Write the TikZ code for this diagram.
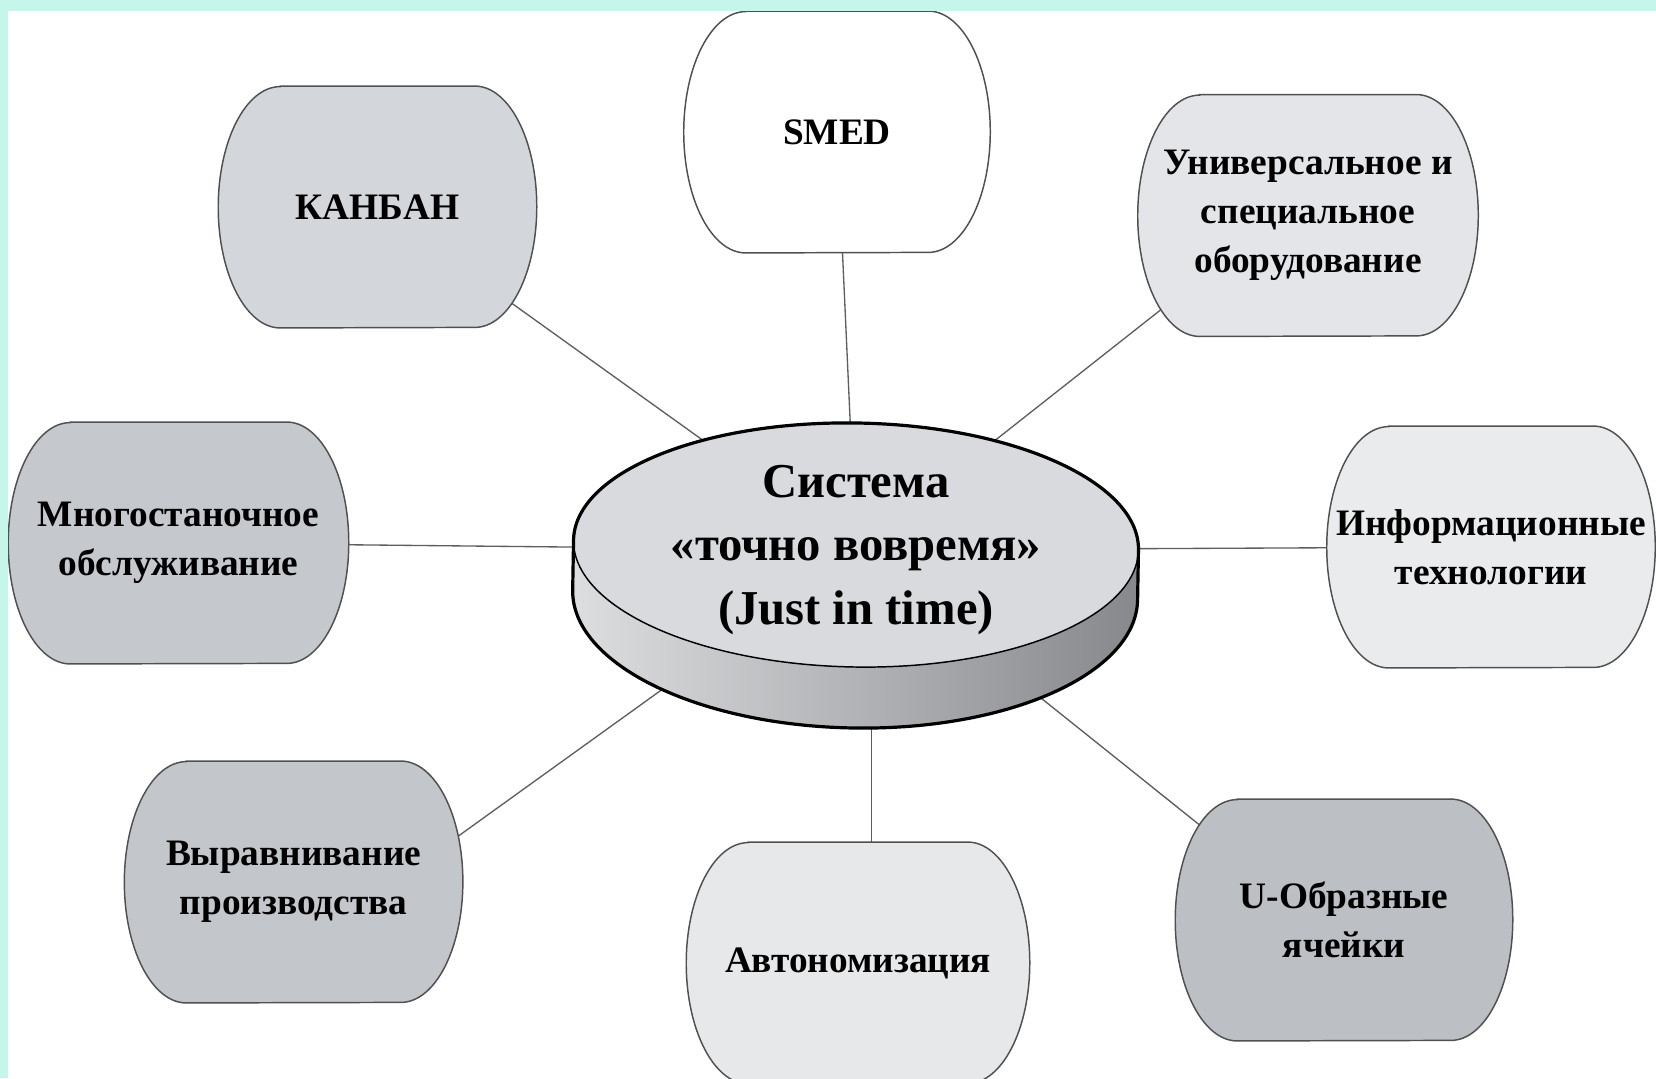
\documentclass[tikz,border=0pt]{standalone}
\usepackage{fontspec}
\setmainfont{Liberation Serif}
\usetikzlibrary{calc,backgrounds}
\definecolor{mint}{HTML}{C6F5E9}
\definecolor{pillborder}{HTML}{505050}
\definecolor{linkgray}{HTML}{5E5E5E}
\definecolor{kanbanfill}{HTML}{D3D6DA}
\definecolor{smedfill}{HTML}{FFFFFF}
\definecolor{univfill}{HTML}{E3E5E8}
\definecolor{mnogofill}{HTML}{C5C8CC}
\definecolor{infofill}{HTML}{EAEBED}
\definecolor{vyrfill}{HTML}{C3C6CA}
\definecolor{avtfill}{HTML}{E7E8EA}
\definecolor{ucellfill}{HTML}{BCBFC3}
\definecolor{disctop}{HTML}{D8DADD}
\definecolor{bandlight}{HTML}{DCDEE0}
\definecolor{banddark}{HTML}{86888B}

\tikzset{
  pilltext/.style={align=center, inner sep=0pt, minimum height=181pt,
    font=\bfseries\fontsize{28}{36.8}\selectfont},
  pillline/.style={draw=pillborder, line width=1.1pt},
  link/.style={draw=linkgray, line width=1pt},
}
% barrel outline round a named node: #1 node, #2 fill
\newcommand{\pillshape}[2]{%
  \draw[pillline, fill=#2] ([xshift=46.5pt]#1.north west) -- ([xshift=-46.5pt]#1.north east)
    arc[start angle=-90, end angle=90, x radius=46.5pt, y radius=90.5pt]
    -- ([xshift=46.5pt]#1.south west)
    arc[start angle=90, end angle=270, x radius=46.5pt, y radius=90.5pt] -- cycle;}

\begin{document}
\begin{tikzpicture}[x=0.75pt,y=0.75pt,yscale=-1,xscale=1]
\useasboundingbox (0,0) rectangle (1656,1078);

% Text Node
\node (jit) at (856,550) [align=center, inner sep=0pt, font=\bfseries\fontsize{36.5}{47.6}\selectfont] {Система\\«точно вовремя»\\(Just in time)};
% Text Node
\node (kanban) at (377.5,207) [pilltext, minimum width=238.5pt] {КАНБАН};
% Text Node
\node (smed) at (837,132) [pilltext, minimum width=229.5pt] {SMED};
% Text Node
\node (univ) at (1308,215.5) [pilltext, minimum width=255pt] {Универсальное и\\специальное\\оборудование};
% Text Node
\node (mnogo) at (178.5,543) [pilltext, minimum width=255pt] {Многостаночное\\обслуживание};
% Text Node
\node (info) at (1491,547) [pilltext, minimum width=246pt] {Информационные\\технологии};
% Text Node
\node (vyr) at (293.6,882) [pilltext, minimum width=253.5pt] {Выравнивание\\производства};
% Text Node
\node (avt) at (858,963) [pilltext, minimum width=257.25pt] {Автономизация};
% Text Node
\node (ucell) at (1344,920) [pilltext, minimum width=252.75pt] {U-Образные\\ячейки};

\begin{scope}[on background layer]
\fill[white] (0,0) rectangle (1656,1078);
% connectors
\draw[link] (jit.center) -- (kanban.center);
\draw[link] (jit.center) -- (smed.center);
\draw[link] (jit.center) -- ($(univ.center)!0.18!(univ.north)$);
\draw[link] (jit.center) -- (mnogo.center);
\draw[link] (jit.center) -- (info.center);
\draw[link] (jit.center) -- ($(vyr.center)!0.6!(vyr.south)$);
\draw[link] ($(avt.center)!0.08!(avt.east)$) coordinate (avtx) -- (avtx |- jit.center);
\draw[link] (jit.center) -- ($(ucell.center)!0.17!(ucell.south)$);
% barrels
\pillshape{kanban}{kanbanfill}
\pillshape{smed}{smedfill}
\pillshape{univ}{univfill}
\pillshape{mnogo}{mnogofill}
\pillshape{info}{infofill}
\pillshape{vyr}{vyrfill}
\pillshape{avt}{avtfill}
\pillshape{ucell}{ucellfill}
% disc
\begin{scope}[rotate around={1:(856,545)}]
\fill[left color=bandlight, right color=banddark] (573.5,545) -- (573.5,595)
  arc[start angle=180, end angle=0, x radius=282.5, y radius=133] -- (1138.5,545)
  arc[start angle=0, end angle=180, x radius=282.5, y radius=122] -- cycle;
\draw[line width=1.1pt, fill=disctop] (856,545) ellipse [x radius=282.5, y radius=122];
\draw[line width=2.4pt] (573.5,545) arc[start angle=180, end angle=360, x radius=282.5, y radius=122]
  -- (1138.5,595) arc[start angle=0, end angle=180, x radius=282.5, y radius=133] -- cycle;
\end{scope}
\end{scope}

% frame
\fill[mint] (0,0) rectangle (1656,11);
\fill[mint] (0,0) rectangle (8,1078);
\end{tikzpicture}
\end{document}
